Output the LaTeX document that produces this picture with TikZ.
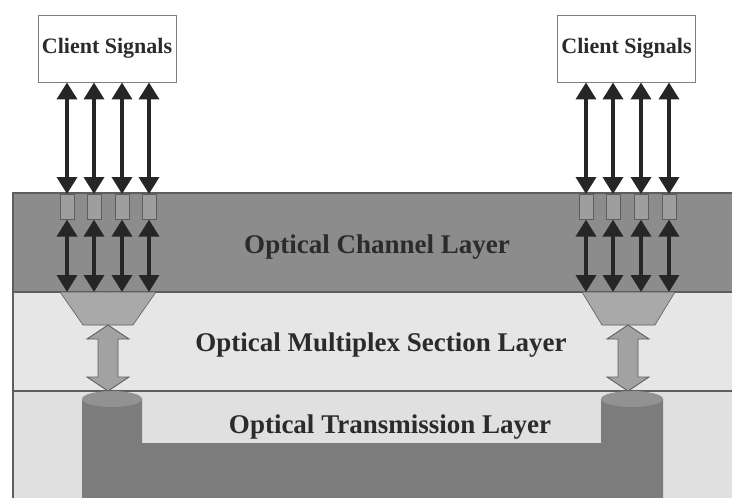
\documentclass[tikz,border=0pt]{standalone}
\usepackage{fontspec}
\setmainfont{Liberation Serif}
\usetikzlibrary{arrows.meta}

\definecolor{chanband}{HTML}{8C8C8C}
\definecolor{muxband}{HTML}{E6E6E6}
\definecolor{otsband}{HTML}{E0E0E0}
\definecolor{edge}{HTML}{5E5E5E}
\definecolor{portfill}{HTML}{9E9E9E}
\definecolor{muxfill}{HTML}{A9A9A9}
\definecolor{fibre}{HTML}{7C7C7C}
\definecolor{fibretop}{HTML}{929292}
\definecolor{blockarrow}{HTML}{A2A2A2}
\definecolor{ink}{HTML}{2B2B2B}

\begin{document}
\begin{tikzpicture}[x=1pt,y=-1pt,
  band/.style={draw=edge,line width=1.1pt},
  clientbox/.style={draw=edge!80,line width=0.9pt,fill=white,minimum width=138pt,
    minimum height=67pt,inner sep=0pt,font=\fontsize{22}{24}\selectfont\bfseries,text=ink},
  port/.style={draw=edge,line width=0.6pt,fill=portfill,minimum width=14pt,
    minimum height=25pt,inner sep=0pt},
  sig/.style={draw=black!85,line width=3.6pt,
    {Triangle[width=20pt,length=17pt]}-{Triangle[width=20pt,length=17pt]}},
  layertext/.style={font=\fontsize{27}{30}\selectfont\bfseries,text=ink,anchor=base,inner sep=0pt},
  muxshape/.style={fill=muxfill,draw=edge,line width=0.6pt},
  fatarrow/.style={fill=blockarrow,draw=edge,line width=0.9pt,line join=miter},
  fibrebody/.style={fill=fibre,draw=none},
  fibrecap/.style={fill=fibretop,draw=none}
]
\useasboundingbox (0,0) rectangle (732,498);
\fill[white] (0,0) rectangle (732,498);

% the three layers
\fill[otsband] (13,391) rectangle (732,498);
\fill[muxband] (13,292) rectangle (732,391);
\fill[chanband] (13,193) rectangle (732,292);
\draw[band] (732,193) -- (13,193) -- (13,498);
\draw[band] (13,292) -- (732,292);
\draw[band] (13,391) -- (732,391);

% fibre path of the transmission layer
\fill[fibrebody] (82,399) -- (82,498) -- (663,498) -- (663,399) -- (601,399)
  -- (601,443) -- (142,443) -- (142,399) -- cycle;
\fill[fibrecap] (112,399) ellipse (30 and 8);
\fill[fibrecap] (632,399) ellipse (31 and 8);

% multiplexers (trapezia under the channel ports)
\draw[muxshape] (60,292) -- (156,292) -- (133,325) -- (83,325) -- cycle;
\coordinate (muxL) at (108,292);
\draw[muxshape] (582,292) -- (675,292) -- (655,325) -- (602,325) -- cycle;
\coordinate (muxR) at (628,292);

% wide double arrows between multiplex and transmission layers
\foreach \cx in {108,628}{
  \draw[fatarrow] (\cx,325) -- (\cx+21,339) -- (\cx+10,339) -- (\cx+10,377)
    -- (\cx+21,377) -- (\cx,391) -- (\cx-21,377) -- (\cx-10,377) -- (\cx-10,339)
    -- (\cx-21,339) -- cycle;
}

% client signal boxes
\node[clientbox] (cl) at (107,48.5) {Client Signals};
\node[clientbox] (cr) at (626.5,48.5) {Client Signals};

% channel ports
\foreach \i/\x in {1/67,2/94,3/122,4/149}{
  \node[port,anchor=north] (pl\i) at (\x,194) {};
}
\foreach \i/\x in {1/586,2/613,3/641,4/669}{
  \node[port,anchor=north] (pr\i) at (\x,194) {};
}

% signal arrows
\foreach \i in {1,2,3,4}{
  \draw[sig] (cl.south -| pl\i.north) -- (pl\i.north);
  \draw[sig] (pl\i.south) -- (pl\i.south |- muxL);
  \draw[sig] (cr.south -| pr\i.north) -- (pr\i.north);
  \draw[sig] (pr\i.south) -- (pr\i.south |- muxR);
}

% layer names
\node[layertext] (och) at (377,253) {Optical Channel Layer};
\node[layertext] (oms) at (381,351) {Optical Multiplex Section Layer};
\node[layertext] (ots) at (390,433) {Optical Transmission Layer};
\end{tikzpicture}
\end{document}
